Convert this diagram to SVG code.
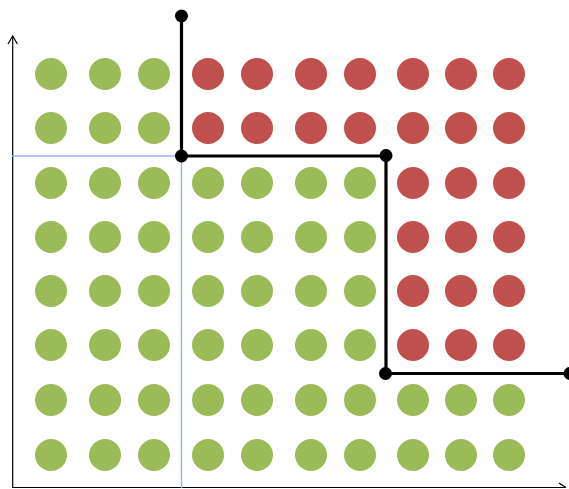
<svg xmlns="http://www.w3.org/2000/svg" width="569" height="489" viewBox="0 0 569 489">
<style>
.g{fill:#9BBB59}
.r{fill:#C0504D}
.ax{stroke:#000;stroke-width:1.2;fill:none}
.bl{stroke:#8EB4E3;stroke-width:1.3;fill:none}
.bk{stroke:#000;stroke-width:3.2;fill:none}
.dot{fill:#000}
</style>
<defs>
<circle id="c" r="16"/>
</defs>
<g id="axes">
<line class="ax" x1="12.7" y1="488" x2="12.7" y2="36"/>
<path class="ax" d="M8 44 L12.7 36 L17.4 44"/>
<line class="ax" x1="12" y1="487.5" x2="566" y2="487.5"/>
<path class="ax" d="M559 483 L566 487.5"/>
</g>
<g id="blue-lines">
<line class="bl" x1="12" y1="156" x2="181.5" y2="156"/>
<line class="bl" x1="181.5" y1="156" x2="181.5" y2="488"/>
</g>
<g id="dots">
<g class="r">
<use href="#c" x="208" y="74"/><use href="#c" x="257" y="74"/><use href="#c" x="311" y="74"/><use href="#c" x="360" y="74"/><use href="#c" x="413" y="74"/><use href="#c" x="461" y="74"/><use href="#c" x="509" y="74"/>
<use href="#c" x="208" y="128"/><use href="#c" x="257" y="128"/><use href="#c" x="311" y="128"/><use href="#c" x="360" y="128"/><use href="#c" x="413" y="128"/><use href="#c" x="461" y="128"/><use href="#c" x="509" y="128"/>
<use href="#c" x="413" y="183"/><use href="#c" x="461" y="183"/><use href="#c" x="509" y="183"/>
<use href="#c" x="413" y="237"/><use href="#c" x="461" y="237"/><use href="#c" x="509" y="237"/>
<use href="#c" x="413" y="291"/><use href="#c" x="461" y="291"/><use href="#c" x="509" y="291"/>
<use href="#c" x="413" y="345"/><use href="#c" x="461" y="345"/><use href="#c" x="509" y="345"/>
</g>
<g class="g">
<use href="#c" x="51" y="74"/><use href="#c" x="105" y="74"/><use href="#c" x="154" y="74"/>
<use href="#c" x="51" y="128"/><use href="#c" x="105" y="128"/><use href="#c" x="154" y="128"/>
<use href="#c" x="51" y="183"/><use href="#c" x="105" y="183"/><use href="#c" x="154" y="183"/><use href="#c" x="208" y="183"/><use href="#c" x="257" y="183"/><use href="#c" x="311" y="183"/><use href="#c" x="360" y="183"/>
<use href="#c" x="51" y="237"/><use href="#c" x="105" y="237"/><use href="#c" x="154" y="237"/><use href="#c" x="208" y="237"/><use href="#c" x="257" y="237"/><use href="#c" x="311" y="237"/><use href="#c" x="360" y="237"/>
<use href="#c" x="51" y="291"/><use href="#c" x="105" y="291"/><use href="#c" x="154" y="291"/><use href="#c" x="208" y="291"/><use href="#c" x="257" y="291"/><use href="#c" x="311" y="291"/><use href="#c" x="360" y="291"/>
<use href="#c" x="51" y="345"/><use href="#c" x="105" y="345"/><use href="#c" x="154" y="345"/><use href="#c" x="208" y="345"/><use href="#c" x="257" y="345"/><use href="#c" x="311" y="345"/><use href="#c" x="360" y="345"/>
<use href="#c" x="51" y="400"/><use href="#c" x="105" y="400"/><use href="#c" x="154" y="400"/><use href="#c" x="208" y="400"/><use href="#c" x="257" y="400"/><use href="#c" x="311" y="400"/><use href="#c" x="360" y="400"/><use href="#c" x="413" y="400"/><use href="#c" x="461" y="400"/><use href="#c" x="509" y="400"/>
<use href="#c" x="51" y="455"/><use href="#c" x="105" y="455"/><use href="#c" x="154" y="455"/><use href="#c" x="208" y="455"/><use href="#c" x="257" y="455"/><use href="#c" x="311" y="455"/><use href="#c" x="360" y="455"/><use href="#c" x="413" y="455"/><use href="#c" x="461" y="455"/><use href="#c" x="509" y="455"/>
</g>
</g>
<g id="boundary">
<path class="bk" d="M181.5 16 L181.5 156 L386 156 L386 373.5 L569 373.5"/>
<circle class="dot" cx="181.5" cy="16" r="6.5"/>
<circle class="dot" cx="181.5" cy="156" r="6.5"/>
<circle class="dot" cx="386" cy="155.5" r="6.5"/>
<circle class="dot" cx="385.5" cy="373.5" r="6.5"/>
<circle class="dot" cx="570" cy="373.5" r="6.5"/>
</g>
</svg>
